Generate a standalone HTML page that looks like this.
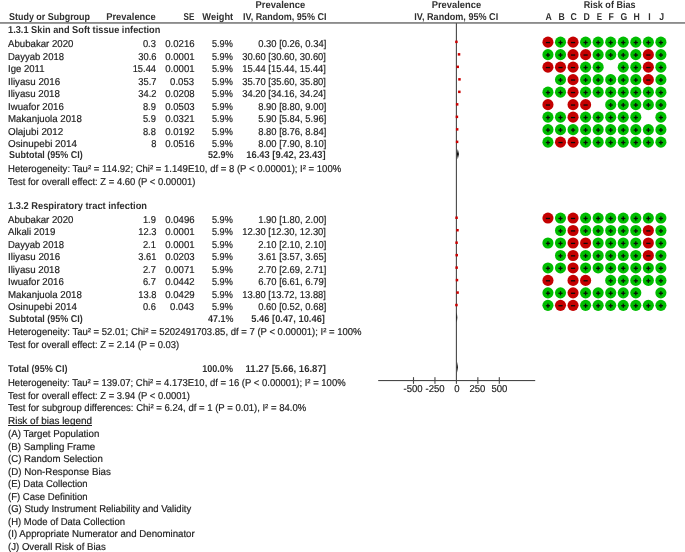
<!DOCTYPE html>
<html><head><meta charset="utf-8"><title>Forest plot</title>
<style>
html,body{margin:0;padding:0;background:#fff;}
body{width:685px;height:552px;position:relative;overflow:hidden;font-family:"Liberation Sans",Arial,sans-serif;color:#1c1c1c;font-size:10.0px;line-height:10.0px;-webkit-text-stroke:0.18px #1c1c1c;}
.t{position:absolute;white-space:nowrap;}
.b{font-weight:bold;-webkit-text-stroke:0;color:#303030;}
u{text-decoration:underline;text-underline-offset:1px;text-decoration-skip-ink:none;text-decoration-thickness:1px;}
svg{position:absolute;left:0;top:0;}
</style></head><body>
<svg width="685" height="552" viewBox="0 0 685 552">
<rect x="455.85" y="23" width="1.1" height="360.85" fill="#484848"/>
<circle cx="547.95" cy="42.15" r="5.55" fill="#c40000"/>
<rect x="545.85" y="41.90" width="4.2" height="1.3" fill="#0a0a0a"/>
<circle cx="560.50" cy="42.15" r="5.55" fill="#00bd00"/>
<rect x="558.40" y="41.90" width="4.2" height="1.3" fill="#0a0a0a"/>
<rect x="559.85" y="40.45" width="1.3" height="4.2" fill="#0a0a0a"/>
<circle cx="573.05" cy="42.15" r="5.55" fill="#c40000"/>
<rect x="570.95" y="41.90" width="4.2" height="1.3" fill="#0a0a0a"/>
<circle cx="585.60" cy="42.15" r="5.55" fill="#00bd00"/>
<rect x="583.50" y="41.90" width="4.2" height="1.3" fill="#0a0a0a"/>
<rect x="584.95" y="40.45" width="1.3" height="4.2" fill="#0a0a0a"/>
<circle cx="598.15" cy="42.15" r="5.55" fill="#00bd00"/>
<rect x="596.05" y="41.90" width="4.2" height="1.3" fill="#0a0a0a"/>
<rect x="597.50" y="40.45" width="1.3" height="4.2" fill="#0a0a0a"/>
<circle cx="610.70" cy="42.15" r="5.55" fill="#00bd00"/>
<rect x="608.60" y="41.90" width="4.2" height="1.3" fill="#0a0a0a"/>
<rect x="610.05" y="40.45" width="1.3" height="4.2" fill="#0a0a0a"/>
<circle cx="623.25" cy="42.15" r="5.55" fill="#00bd00"/>
<rect x="621.15" y="41.90" width="4.2" height="1.3" fill="#0a0a0a"/>
<rect x="622.60" y="40.45" width="1.3" height="4.2" fill="#0a0a0a"/>
<circle cx="635.80" cy="42.15" r="5.55" fill="#00bd00"/>
<rect x="633.70" y="41.90" width="4.2" height="1.3" fill="#0a0a0a"/>
<rect x="635.15" y="40.45" width="1.3" height="4.2" fill="#0a0a0a"/>
<circle cx="648.35" cy="42.15" r="5.55" fill="#00bd00"/>
<rect x="646.25" y="41.90" width="4.2" height="1.3" fill="#0a0a0a"/>
<rect x="647.70" y="40.45" width="1.3" height="4.2" fill="#0a0a0a"/>
<circle cx="660.90" cy="42.15" r="5.55" fill="#00bd00"/>
<rect x="658.80" y="41.90" width="4.2" height="1.3" fill="#0a0a0a"/>
<rect x="660.25" y="40.45" width="1.3" height="4.2" fill="#0a0a0a"/>
<rect x="455.18" y="40.60" width="2.5" height="2.5" fill="#cc0000"/>
<circle cx="547.95" cy="54.65" r="5.55" fill="#00bd00"/>
<rect x="545.85" y="54.40" width="4.2" height="1.3" fill="#0a0a0a"/>
<rect x="547.30" y="52.95" width="1.3" height="4.2" fill="#0a0a0a"/>
<circle cx="560.50" cy="54.65" r="5.55" fill="#00bd00"/>
<rect x="558.40" y="54.40" width="4.2" height="1.3" fill="#0a0a0a"/>
<rect x="559.85" y="52.95" width="1.3" height="4.2" fill="#0a0a0a"/>
<circle cx="573.05" cy="54.65" r="5.55" fill="#c40000"/>
<rect x="570.95" y="54.40" width="4.2" height="1.3" fill="#0a0a0a"/>
<circle cx="585.60" cy="54.65" r="5.55" fill="#c40000"/>
<rect x="583.50" y="54.40" width="4.2" height="1.3" fill="#0a0a0a"/>
<circle cx="598.15" cy="54.65" r="5.55" fill="#00bd00"/>
<rect x="596.05" y="54.40" width="4.2" height="1.3" fill="#0a0a0a"/>
<rect x="597.50" y="52.95" width="1.3" height="4.2" fill="#0a0a0a"/>
<circle cx="610.70" cy="54.65" r="5.55" fill="#00bd00"/>
<rect x="608.60" y="54.40" width="4.2" height="1.3" fill="#0a0a0a"/>
<rect x="610.05" y="52.95" width="1.3" height="4.2" fill="#0a0a0a"/>
<circle cx="623.25" cy="54.65" r="5.55" fill="#00bd00"/>
<rect x="621.15" y="54.40" width="4.2" height="1.3" fill="#0a0a0a"/>
<rect x="622.60" y="52.95" width="1.3" height="4.2" fill="#0a0a0a"/>
<circle cx="635.80" cy="54.65" r="5.55" fill="#00bd00"/>
<rect x="633.70" y="54.40" width="4.2" height="1.3" fill="#0a0a0a"/>
<rect x="635.15" y="52.95" width="1.3" height="4.2" fill="#0a0a0a"/>
<circle cx="648.35" cy="54.65" r="5.55" fill="#c40000"/>
<rect x="646.25" y="54.40" width="4.2" height="1.3" fill="#0a0a0a"/>
<circle cx="660.90" cy="54.65" r="5.55" fill="#00bd00"/>
<rect x="658.80" y="54.40" width="4.2" height="1.3" fill="#0a0a0a"/>
<rect x="660.25" y="52.95" width="1.3" height="4.2" fill="#0a0a0a"/>
<rect x="457.78" y="53.10" width="2.5" height="2.5" fill="#cc0000"/>
<circle cx="547.95" cy="67.15" r="5.55" fill="#c40000"/>
<rect x="545.85" y="66.90" width="4.2" height="1.3" fill="#0a0a0a"/>
<circle cx="560.50" cy="67.15" r="5.55" fill="#c40000"/>
<rect x="558.40" y="66.90" width="4.2" height="1.3" fill="#0a0a0a"/>
<circle cx="573.05" cy="67.15" r="5.55" fill="#c40000"/>
<rect x="570.95" y="66.90" width="4.2" height="1.3" fill="#0a0a0a"/>
<circle cx="585.60" cy="67.15" r="5.55" fill="#00bd00"/>
<rect x="583.50" y="66.90" width="4.2" height="1.3" fill="#0a0a0a"/>
<rect x="584.95" y="65.45" width="1.3" height="4.2" fill="#0a0a0a"/>
<circle cx="598.15" cy="67.15" r="5.55" fill="#00bd00"/>
<rect x="596.05" y="66.90" width="4.2" height="1.3" fill="#0a0a0a"/>
<rect x="597.50" y="65.45" width="1.3" height="4.2" fill="#0a0a0a"/>
<circle cx="623.25" cy="67.15" r="5.55" fill="#00bd00"/>
<rect x="621.15" y="66.90" width="4.2" height="1.3" fill="#0a0a0a"/>
<rect x="622.60" y="65.45" width="1.3" height="4.2" fill="#0a0a0a"/>
<circle cx="635.80" cy="67.15" r="5.55" fill="#00bd00"/>
<rect x="633.70" y="66.90" width="4.2" height="1.3" fill="#0a0a0a"/>
<rect x="635.15" y="65.45" width="1.3" height="4.2" fill="#0a0a0a"/>
<circle cx="648.35" cy="67.15" r="5.55" fill="#c40000"/>
<rect x="646.25" y="66.90" width="4.2" height="1.3" fill="#0a0a0a"/>
<circle cx="660.90" cy="67.15" r="5.55" fill="#00bd00"/>
<rect x="658.80" y="66.90" width="4.2" height="1.3" fill="#0a0a0a"/>
<rect x="660.25" y="65.45" width="1.3" height="4.2" fill="#0a0a0a"/>
<rect x="456.47" y="65.60" width="2.5" height="2.5" fill="#cc0000"/>
<circle cx="560.50" cy="79.65" r="5.55" fill="#00bd00"/>
<rect x="558.40" y="79.40" width="4.2" height="1.3" fill="#0a0a0a"/>
<rect x="559.85" y="77.95" width="1.3" height="4.2" fill="#0a0a0a"/>
<circle cx="573.05" cy="79.65" r="5.55" fill="#c40000"/>
<rect x="570.95" y="79.40" width="4.2" height="1.3" fill="#0a0a0a"/>
<circle cx="585.60" cy="79.65" r="5.55" fill="#00bd00"/>
<rect x="583.50" y="79.40" width="4.2" height="1.3" fill="#0a0a0a"/>
<rect x="584.95" y="77.95" width="1.3" height="4.2" fill="#0a0a0a"/>
<circle cx="598.15" cy="79.65" r="5.55" fill="#00bd00"/>
<rect x="596.05" y="79.40" width="4.2" height="1.3" fill="#0a0a0a"/>
<rect x="597.50" y="77.95" width="1.3" height="4.2" fill="#0a0a0a"/>
<circle cx="610.70" cy="79.65" r="5.55" fill="#00bd00"/>
<rect x="608.60" y="79.40" width="4.2" height="1.3" fill="#0a0a0a"/>
<rect x="610.05" y="77.95" width="1.3" height="4.2" fill="#0a0a0a"/>
<circle cx="623.25" cy="79.65" r="5.55" fill="#00bd00"/>
<rect x="621.15" y="79.40" width="4.2" height="1.3" fill="#0a0a0a"/>
<rect x="622.60" y="77.95" width="1.3" height="4.2" fill="#0a0a0a"/>
<circle cx="635.80" cy="79.65" r="5.55" fill="#00bd00"/>
<rect x="633.70" y="79.40" width="4.2" height="1.3" fill="#0a0a0a"/>
<rect x="635.15" y="77.95" width="1.3" height="4.2" fill="#0a0a0a"/>
<circle cx="648.35" cy="79.65" r="5.55" fill="#c40000"/>
<rect x="646.25" y="79.40" width="4.2" height="1.3" fill="#0a0a0a"/>
<circle cx="660.90" cy="79.65" r="5.55" fill="#00bd00"/>
<rect x="658.80" y="79.40" width="4.2" height="1.3" fill="#0a0a0a"/>
<rect x="660.25" y="77.95" width="1.3" height="4.2" fill="#0a0a0a"/>
<rect x="458.21" y="78.10" width="2.5" height="2.5" fill="#cc0000"/>
<circle cx="547.95" cy="92.15" r="5.55" fill="#00bd00"/>
<rect x="545.85" y="91.90" width="4.2" height="1.3" fill="#0a0a0a"/>
<rect x="547.30" y="90.45" width="1.3" height="4.2" fill="#0a0a0a"/>
<circle cx="560.50" cy="92.15" r="5.55" fill="#00bd00"/>
<rect x="558.40" y="91.90" width="4.2" height="1.3" fill="#0a0a0a"/>
<rect x="559.85" y="90.45" width="1.3" height="4.2" fill="#0a0a0a"/>
<circle cx="573.05" cy="92.15" r="5.55" fill="#c40000"/>
<rect x="570.95" y="91.90" width="4.2" height="1.3" fill="#0a0a0a"/>
<circle cx="585.60" cy="92.15" r="5.55" fill="#00bd00"/>
<rect x="583.50" y="91.90" width="4.2" height="1.3" fill="#0a0a0a"/>
<rect x="584.95" y="90.45" width="1.3" height="4.2" fill="#0a0a0a"/>
<circle cx="598.15" cy="92.15" r="5.55" fill="#00bd00"/>
<rect x="596.05" y="91.90" width="4.2" height="1.3" fill="#0a0a0a"/>
<rect x="597.50" y="90.45" width="1.3" height="4.2" fill="#0a0a0a"/>
<circle cx="610.70" cy="92.15" r="5.55" fill="#00bd00"/>
<rect x="608.60" y="91.90" width="4.2" height="1.3" fill="#0a0a0a"/>
<rect x="610.05" y="90.45" width="1.3" height="4.2" fill="#0a0a0a"/>
<circle cx="623.25" cy="92.15" r="5.55" fill="#00bd00"/>
<rect x="621.15" y="91.90" width="4.2" height="1.3" fill="#0a0a0a"/>
<rect x="622.60" y="90.45" width="1.3" height="4.2" fill="#0a0a0a"/>
<circle cx="635.80" cy="92.15" r="5.55" fill="#00bd00"/>
<rect x="633.70" y="91.90" width="4.2" height="1.3" fill="#0a0a0a"/>
<rect x="635.15" y="90.45" width="1.3" height="4.2" fill="#0a0a0a"/>
<circle cx="648.35" cy="92.15" r="5.55" fill="#00bd00"/>
<rect x="646.25" y="91.90" width="4.2" height="1.3" fill="#0a0a0a"/>
<rect x="647.70" y="90.45" width="1.3" height="4.2" fill="#0a0a0a"/>
<circle cx="660.90" cy="92.15" r="5.55" fill="#00bd00"/>
<rect x="658.80" y="91.90" width="4.2" height="1.3" fill="#0a0a0a"/>
<rect x="660.25" y="90.45" width="1.3" height="4.2" fill="#0a0a0a"/>
<rect x="458.08" y="90.60" width="2.5" height="2.5" fill="#cc0000"/>
<circle cx="547.95" cy="104.65" r="5.55" fill="#c40000"/>
<rect x="545.85" y="104.40" width="4.2" height="1.3" fill="#0a0a0a"/>
<circle cx="573.05" cy="104.65" r="5.55" fill="#c40000"/>
<rect x="570.95" y="104.40" width="4.2" height="1.3" fill="#0a0a0a"/>
<circle cx="585.60" cy="104.65" r="5.55" fill="#c40000"/>
<rect x="583.50" y="104.40" width="4.2" height="1.3" fill="#0a0a0a"/>
<circle cx="610.70" cy="104.65" r="5.55" fill="#00bd00"/>
<rect x="608.60" y="104.40" width="4.2" height="1.3" fill="#0a0a0a"/>
<rect x="610.05" y="102.95" width="1.3" height="4.2" fill="#0a0a0a"/>
<circle cx="623.25" cy="104.65" r="5.55" fill="#00bd00"/>
<rect x="621.15" y="104.40" width="4.2" height="1.3" fill="#0a0a0a"/>
<rect x="622.60" y="102.95" width="1.3" height="4.2" fill="#0a0a0a"/>
<circle cx="635.80" cy="104.65" r="5.55" fill="#00bd00"/>
<rect x="633.70" y="104.40" width="4.2" height="1.3" fill="#0a0a0a"/>
<rect x="635.15" y="102.95" width="1.3" height="4.2" fill="#0a0a0a"/>
<circle cx="648.35" cy="104.65" r="5.55" fill="#00bd00"/>
<rect x="646.25" y="104.40" width="4.2" height="1.3" fill="#0a0a0a"/>
<rect x="647.70" y="102.95" width="1.3" height="4.2" fill="#0a0a0a"/>
<circle cx="660.90" cy="104.65" r="5.55" fill="#00bd00"/>
<rect x="658.80" y="104.40" width="4.2" height="1.3" fill="#0a0a0a"/>
<rect x="660.25" y="102.95" width="1.3" height="4.2" fill="#0a0a0a"/>
<rect x="455.91" y="103.10" width="2.5" height="2.5" fill="#cc0000"/>
<circle cx="547.95" cy="117.15" r="5.55" fill="#00bd00"/>
<rect x="545.85" y="116.90" width="4.2" height="1.3" fill="#0a0a0a"/>
<rect x="547.30" y="115.45" width="1.3" height="4.2" fill="#0a0a0a"/>
<circle cx="560.50" cy="117.15" r="5.55" fill="#00bd00"/>
<rect x="558.40" y="116.90" width="4.2" height="1.3" fill="#0a0a0a"/>
<rect x="559.85" y="115.45" width="1.3" height="4.2" fill="#0a0a0a"/>
<circle cx="573.05" cy="117.15" r="5.55" fill="#c40000"/>
<rect x="570.95" y="116.90" width="4.2" height="1.3" fill="#0a0a0a"/>
<circle cx="585.60" cy="117.15" r="5.55" fill="#00bd00"/>
<rect x="583.50" y="116.90" width="4.2" height="1.3" fill="#0a0a0a"/>
<rect x="584.95" y="115.45" width="1.3" height="4.2" fill="#0a0a0a"/>
<circle cx="598.15" cy="117.15" r="5.55" fill="#00bd00"/>
<rect x="596.05" y="116.90" width="4.2" height="1.3" fill="#0a0a0a"/>
<rect x="597.50" y="115.45" width="1.3" height="4.2" fill="#0a0a0a"/>
<circle cx="610.70" cy="117.15" r="5.55" fill="#00bd00"/>
<rect x="608.60" y="116.90" width="4.2" height="1.3" fill="#0a0a0a"/>
<rect x="610.05" y="115.45" width="1.3" height="4.2" fill="#0a0a0a"/>
<circle cx="623.25" cy="117.15" r="5.55" fill="#00bd00"/>
<rect x="621.15" y="116.90" width="4.2" height="1.3" fill="#0a0a0a"/>
<rect x="622.60" y="115.45" width="1.3" height="4.2" fill="#0a0a0a"/>
<circle cx="635.80" cy="117.15" r="5.55" fill="#00bd00"/>
<rect x="633.70" y="116.90" width="4.2" height="1.3" fill="#0a0a0a"/>
<rect x="635.15" y="115.45" width="1.3" height="4.2" fill="#0a0a0a"/>
<circle cx="660.90" cy="117.15" r="5.55" fill="#00bd00"/>
<rect x="658.80" y="116.90" width="4.2" height="1.3" fill="#0a0a0a"/>
<rect x="660.25" y="115.45" width="1.3" height="4.2" fill="#0a0a0a"/>
<rect x="455.66" y="115.60" width="2.5" height="2.5" fill="#cc0000"/>
<circle cx="547.95" cy="129.65" r="5.55" fill="#00bd00"/>
<rect x="545.85" y="129.40" width="4.2" height="1.3" fill="#0a0a0a"/>
<rect x="547.30" y="127.95" width="1.3" height="4.2" fill="#0a0a0a"/>
<circle cx="560.50" cy="129.65" r="5.55" fill="#00bd00"/>
<rect x="558.40" y="129.40" width="4.2" height="1.3" fill="#0a0a0a"/>
<rect x="559.85" y="127.95" width="1.3" height="4.2" fill="#0a0a0a"/>
<circle cx="573.05" cy="129.65" r="5.55" fill="#00bd00"/>
<rect x="570.95" y="129.40" width="4.2" height="1.3" fill="#0a0a0a"/>
<rect x="572.40" y="127.95" width="1.3" height="4.2" fill="#0a0a0a"/>
<circle cx="585.60" cy="129.65" r="5.55" fill="#00bd00"/>
<rect x="583.50" y="129.40" width="4.2" height="1.3" fill="#0a0a0a"/>
<rect x="584.95" y="127.95" width="1.3" height="4.2" fill="#0a0a0a"/>
<circle cx="598.15" cy="129.65" r="5.55" fill="#00bd00"/>
<rect x="596.05" y="129.40" width="4.2" height="1.3" fill="#0a0a0a"/>
<rect x="597.50" y="127.95" width="1.3" height="4.2" fill="#0a0a0a"/>
<circle cx="610.70" cy="129.65" r="5.55" fill="#00bd00"/>
<rect x="608.60" y="129.40" width="4.2" height="1.3" fill="#0a0a0a"/>
<rect x="610.05" y="127.95" width="1.3" height="4.2" fill="#0a0a0a"/>
<circle cx="623.25" cy="129.65" r="5.55" fill="#00bd00"/>
<rect x="621.15" y="129.40" width="4.2" height="1.3" fill="#0a0a0a"/>
<rect x="622.60" y="127.95" width="1.3" height="4.2" fill="#0a0a0a"/>
<circle cx="635.80" cy="129.65" r="5.55" fill="#00bd00"/>
<rect x="633.70" y="129.40" width="4.2" height="1.3" fill="#0a0a0a"/>
<rect x="635.15" y="127.95" width="1.3" height="4.2" fill="#0a0a0a"/>
<circle cx="648.35" cy="129.65" r="5.55" fill="#00bd00"/>
<rect x="646.25" y="129.40" width="4.2" height="1.3" fill="#0a0a0a"/>
<rect x="647.70" y="127.95" width="1.3" height="4.2" fill="#0a0a0a"/>
<circle cx="660.90" cy="129.65" r="5.55" fill="#00bd00"/>
<rect x="658.80" y="129.40" width="4.2" height="1.3" fill="#0a0a0a"/>
<rect x="660.25" y="127.95" width="1.3" height="4.2" fill="#0a0a0a"/>
<rect x="455.91" y="128.10" width="2.5" height="2.5" fill="#cc0000"/>
<circle cx="547.95" cy="142.15" r="5.55" fill="#00bd00"/>
<rect x="545.85" y="141.90" width="4.2" height="1.3" fill="#0a0a0a"/>
<rect x="547.30" y="140.45" width="1.3" height="4.2" fill="#0a0a0a"/>
<circle cx="560.50" cy="142.15" r="5.55" fill="#c40000"/>
<rect x="558.40" y="141.90" width="4.2" height="1.3" fill="#0a0a0a"/>
<circle cx="573.05" cy="142.15" r="5.55" fill="#c40000"/>
<rect x="570.95" y="141.90" width="4.2" height="1.3" fill="#0a0a0a"/>
<circle cx="585.60" cy="142.15" r="5.55" fill="#00bd00"/>
<rect x="583.50" y="141.90" width="4.2" height="1.3" fill="#0a0a0a"/>
<rect x="584.95" y="140.45" width="1.3" height="4.2" fill="#0a0a0a"/>
<circle cx="598.15" cy="142.15" r="5.55" fill="#00bd00"/>
<rect x="596.05" y="141.90" width="4.2" height="1.3" fill="#0a0a0a"/>
<rect x="597.50" y="140.45" width="1.3" height="4.2" fill="#0a0a0a"/>
<circle cx="610.70" cy="142.15" r="5.55" fill="#00bd00"/>
<rect x="608.60" y="141.90" width="4.2" height="1.3" fill="#0a0a0a"/>
<rect x="610.05" y="140.45" width="1.3" height="4.2" fill="#0a0a0a"/>
<circle cx="623.25" cy="142.15" r="5.55" fill="#00bd00"/>
<rect x="621.15" y="141.90" width="4.2" height="1.3" fill="#0a0a0a"/>
<rect x="622.60" y="140.45" width="1.3" height="4.2" fill="#0a0a0a"/>
<circle cx="635.80" cy="142.15" r="5.55" fill="#00bd00"/>
<rect x="633.70" y="141.90" width="4.2" height="1.3" fill="#0a0a0a"/>
<rect x="635.15" y="140.45" width="1.3" height="4.2" fill="#0a0a0a"/>
<circle cx="648.35" cy="142.15" r="5.55" fill="#00bd00"/>
<rect x="646.25" y="141.90" width="4.2" height="1.3" fill="#0a0a0a"/>
<rect x="647.70" y="140.45" width="1.3" height="4.2" fill="#0a0a0a"/>
<circle cx="660.90" cy="142.15" r="5.55" fill="#00bd00"/>
<rect x="658.80" y="141.90" width="4.2" height="1.3" fill="#0a0a0a"/>
<rect x="660.25" y="140.45" width="1.3" height="4.2" fill="#0a0a0a"/>
<rect x="455.84" y="140.60" width="2.5" height="2.5" fill="#cc0000"/>
<polygon points="456.96,154.10 457.81,148.90 458.91,154.10 457.81,159.30" fill="#000"/>
<circle cx="547.95" cy="218.05" r="5.55" fill="#c40000"/>
<rect x="545.85" y="217.80" width="4.2" height="1.3" fill="#0a0a0a"/>
<circle cx="560.50" cy="218.05" r="5.55" fill="#00bd00"/>
<rect x="558.40" y="217.80" width="4.2" height="1.3" fill="#0a0a0a"/>
<rect x="559.85" y="216.35" width="1.3" height="4.2" fill="#0a0a0a"/>
<circle cx="573.05" cy="218.05" r="5.55" fill="#c40000"/>
<rect x="570.95" y="217.80" width="4.2" height="1.3" fill="#0a0a0a"/>
<circle cx="585.60" cy="218.05" r="5.55" fill="#00bd00"/>
<rect x="583.50" y="217.80" width="4.2" height="1.3" fill="#0a0a0a"/>
<rect x="584.95" y="216.35" width="1.3" height="4.2" fill="#0a0a0a"/>
<circle cx="598.15" cy="218.05" r="5.55" fill="#00bd00"/>
<rect x="596.05" y="217.80" width="4.2" height="1.3" fill="#0a0a0a"/>
<rect x="597.50" y="216.35" width="1.3" height="4.2" fill="#0a0a0a"/>
<circle cx="610.70" cy="218.05" r="5.55" fill="#00bd00"/>
<rect x="608.60" y="217.80" width="4.2" height="1.3" fill="#0a0a0a"/>
<rect x="610.05" y="216.35" width="1.3" height="4.2" fill="#0a0a0a"/>
<circle cx="623.25" cy="218.05" r="5.55" fill="#00bd00"/>
<rect x="621.15" y="217.80" width="4.2" height="1.3" fill="#0a0a0a"/>
<rect x="622.60" y="216.35" width="1.3" height="4.2" fill="#0a0a0a"/>
<circle cx="635.80" cy="218.05" r="5.55" fill="#00bd00"/>
<rect x="633.70" y="217.80" width="4.2" height="1.3" fill="#0a0a0a"/>
<rect x="635.15" y="216.35" width="1.3" height="4.2" fill="#0a0a0a"/>
<circle cx="648.35" cy="218.05" r="5.55" fill="#00bd00"/>
<rect x="646.25" y="217.80" width="4.2" height="1.3" fill="#0a0a0a"/>
<rect x="647.70" y="216.35" width="1.3" height="4.2" fill="#0a0a0a"/>
<circle cx="660.90" cy="218.05" r="5.55" fill="#00bd00"/>
<rect x="658.80" y="217.80" width="4.2" height="1.3" fill="#0a0a0a"/>
<rect x="660.25" y="216.35" width="1.3" height="4.2" fill="#0a0a0a"/>
<rect x="455.31" y="216.50" width="2.5" height="2.5" fill="#cc0000"/>
<circle cx="560.50" cy="230.52" r="5.55" fill="#00bd00"/>
<rect x="558.40" y="230.27" width="4.2" height="1.3" fill="#0a0a0a"/>
<rect x="559.85" y="228.82" width="1.3" height="4.2" fill="#0a0a0a"/>
<circle cx="573.05" cy="230.52" r="5.55" fill="#c40000"/>
<rect x="570.95" y="230.27" width="4.2" height="1.3" fill="#0a0a0a"/>
<circle cx="585.60" cy="230.52" r="5.55" fill="#00bd00"/>
<rect x="583.50" y="230.27" width="4.2" height="1.3" fill="#0a0a0a"/>
<rect x="584.95" y="228.82" width="1.3" height="4.2" fill="#0a0a0a"/>
<circle cx="598.15" cy="230.52" r="5.55" fill="#00bd00"/>
<rect x="596.05" y="230.27" width="4.2" height="1.3" fill="#0a0a0a"/>
<rect x="597.50" y="228.82" width="1.3" height="4.2" fill="#0a0a0a"/>
<circle cx="610.70" cy="230.52" r="5.55" fill="#00bd00"/>
<rect x="608.60" y="230.27" width="4.2" height="1.3" fill="#0a0a0a"/>
<rect x="610.05" y="228.82" width="1.3" height="4.2" fill="#0a0a0a"/>
<circle cx="623.25" cy="230.52" r="5.55" fill="#00bd00"/>
<rect x="621.15" y="230.27" width="4.2" height="1.3" fill="#0a0a0a"/>
<rect x="622.60" y="228.82" width="1.3" height="4.2" fill="#0a0a0a"/>
<circle cx="635.80" cy="230.52" r="5.55" fill="#00bd00"/>
<rect x="633.70" y="230.27" width="4.2" height="1.3" fill="#0a0a0a"/>
<rect x="635.15" y="228.82" width="1.3" height="4.2" fill="#0a0a0a"/>
<circle cx="648.35" cy="230.52" r="5.55" fill="#c40000"/>
<rect x="646.25" y="230.27" width="4.2" height="1.3" fill="#0a0a0a"/>
<circle cx="660.90" cy="230.52" r="5.55" fill="#00bd00"/>
<rect x="658.80" y="230.27" width="4.2" height="1.3" fill="#0a0a0a"/>
<rect x="660.25" y="228.82" width="1.3" height="4.2" fill="#0a0a0a"/>
<rect x="456.21" y="228.97" width="2.5" height="2.5" fill="#cc0000"/>
<circle cx="547.95" cy="242.99" r="5.55" fill="#00bd00"/>
<rect x="545.85" y="242.74" width="4.2" height="1.3" fill="#0a0a0a"/>
<rect x="547.30" y="241.29" width="1.3" height="4.2" fill="#0a0a0a"/>
<circle cx="560.50" cy="242.99" r="5.55" fill="#00bd00"/>
<rect x="558.40" y="242.74" width="4.2" height="1.3" fill="#0a0a0a"/>
<rect x="559.85" y="241.29" width="1.3" height="4.2" fill="#0a0a0a"/>
<circle cx="573.05" cy="242.99" r="5.55" fill="#c40000"/>
<rect x="570.95" y="242.74" width="4.2" height="1.3" fill="#0a0a0a"/>
<circle cx="585.60" cy="242.99" r="5.55" fill="#c40000"/>
<rect x="583.50" y="242.74" width="4.2" height="1.3" fill="#0a0a0a"/>
<circle cx="598.15" cy="242.99" r="5.55" fill="#00bd00"/>
<rect x="596.05" y="242.74" width="4.2" height="1.3" fill="#0a0a0a"/>
<rect x="597.50" y="241.29" width="1.3" height="4.2" fill="#0a0a0a"/>
<circle cx="610.70" cy="242.99" r="5.55" fill="#00bd00"/>
<rect x="608.60" y="242.74" width="4.2" height="1.3" fill="#0a0a0a"/>
<rect x="610.05" y="241.29" width="1.3" height="4.2" fill="#0a0a0a"/>
<circle cx="623.25" cy="242.99" r="5.55" fill="#00bd00"/>
<rect x="621.15" y="242.74" width="4.2" height="1.3" fill="#0a0a0a"/>
<rect x="622.60" y="241.29" width="1.3" height="4.2" fill="#0a0a0a"/>
<circle cx="635.80" cy="242.99" r="5.55" fill="#00bd00"/>
<rect x="633.70" y="242.74" width="4.2" height="1.3" fill="#0a0a0a"/>
<rect x="635.15" y="241.29" width="1.3" height="4.2" fill="#0a0a0a"/>
<circle cx="648.35" cy="242.99" r="5.55" fill="#c40000"/>
<rect x="646.25" y="242.74" width="4.2" height="1.3" fill="#0a0a0a"/>
<circle cx="660.90" cy="242.99" r="5.55" fill="#00bd00"/>
<rect x="658.80" y="242.74" width="4.2" height="1.3" fill="#0a0a0a"/>
<rect x="660.25" y="241.29" width="1.3" height="4.2" fill="#0a0a0a"/>
<rect x="455.33" y="241.44" width="2.5" height="2.5" fill="#cc0000"/>
<circle cx="560.50" cy="255.46" r="5.55" fill="#00bd00"/>
<rect x="558.40" y="255.21" width="4.2" height="1.3" fill="#0a0a0a"/>
<rect x="559.85" y="253.76" width="1.3" height="4.2" fill="#0a0a0a"/>
<circle cx="573.05" cy="255.46" r="5.55" fill="#c40000"/>
<rect x="570.95" y="255.21" width="4.2" height="1.3" fill="#0a0a0a"/>
<circle cx="585.60" cy="255.46" r="5.55" fill="#00bd00"/>
<rect x="583.50" y="255.21" width="4.2" height="1.3" fill="#0a0a0a"/>
<rect x="584.95" y="253.76" width="1.3" height="4.2" fill="#0a0a0a"/>
<circle cx="598.15" cy="255.46" r="5.55" fill="#00bd00"/>
<rect x="596.05" y="255.21" width="4.2" height="1.3" fill="#0a0a0a"/>
<rect x="597.50" y="253.76" width="1.3" height="4.2" fill="#0a0a0a"/>
<circle cx="610.70" cy="255.46" r="5.55" fill="#00bd00"/>
<rect x="608.60" y="255.21" width="4.2" height="1.3" fill="#0a0a0a"/>
<rect x="610.05" y="253.76" width="1.3" height="4.2" fill="#0a0a0a"/>
<circle cx="623.25" cy="255.46" r="5.55" fill="#00bd00"/>
<rect x="621.15" y="255.21" width="4.2" height="1.3" fill="#0a0a0a"/>
<rect x="622.60" y="253.76" width="1.3" height="4.2" fill="#0a0a0a"/>
<circle cx="635.80" cy="255.46" r="5.55" fill="#00bd00"/>
<rect x="633.70" y="255.21" width="4.2" height="1.3" fill="#0a0a0a"/>
<rect x="635.15" y="253.76" width="1.3" height="4.2" fill="#0a0a0a"/>
<circle cx="648.35" cy="255.46" r="5.55" fill="#c40000"/>
<rect x="646.25" y="255.21" width="4.2" height="1.3" fill="#0a0a0a"/>
<circle cx="660.90" cy="255.46" r="5.55" fill="#00bd00"/>
<rect x="658.80" y="255.21" width="4.2" height="1.3" fill="#0a0a0a"/>
<rect x="660.25" y="253.76" width="1.3" height="4.2" fill="#0a0a0a"/>
<rect x="455.46" y="253.91" width="2.5" height="2.5" fill="#cc0000"/>
<circle cx="547.95" cy="267.93" r="5.55" fill="#00bd00"/>
<rect x="545.85" y="267.68" width="4.2" height="1.3" fill="#0a0a0a"/>
<rect x="547.30" y="266.23" width="1.3" height="4.2" fill="#0a0a0a"/>
<circle cx="560.50" cy="267.93" r="5.55" fill="#00bd00"/>
<rect x="558.40" y="267.68" width="4.2" height="1.3" fill="#0a0a0a"/>
<rect x="559.85" y="266.23" width="1.3" height="4.2" fill="#0a0a0a"/>
<circle cx="573.05" cy="267.93" r="5.55" fill="#c40000"/>
<rect x="570.95" y="267.68" width="4.2" height="1.3" fill="#0a0a0a"/>
<circle cx="585.60" cy="267.93" r="5.55" fill="#00bd00"/>
<rect x="583.50" y="267.68" width="4.2" height="1.3" fill="#0a0a0a"/>
<rect x="584.95" y="266.23" width="1.3" height="4.2" fill="#0a0a0a"/>
<circle cx="598.15" cy="267.93" r="5.55" fill="#00bd00"/>
<rect x="596.05" y="267.68" width="4.2" height="1.3" fill="#0a0a0a"/>
<rect x="597.50" y="266.23" width="1.3" height="4.2" fill="#0a0a0a"/>
<circle cx="610.70" cy="267.93" r="5.55" fill="#00bd00"/>
<rect x="608.60" y="267.68" width="4.2" height="1.3" fill="#0a0a0a"/>
<rect x="610.05" y="266.23" width="1.3" height="4.2" fill="#0a0a0a"/>
<circle cx="623.25" cy="267.93" r="5.55" fill="#00bd00"/>
<rect x="621.15" y="267.68" width="4.2" height="1.3" fill="#0a0a0a"/>
<rect x="622.60" y="266.23" width="1.3" height="4.2" fill="#0a0a0a"/>
<circle cx="635.80" cy="267.93" r="5.55" fill="#00bd00"/>
<rect x="633.70" y="267.68" width="4.2" height="1.3" fill="#0a0a0a"/>
<rect x="635.15" y="266.23" width="1.3" height="4.2" fill="#0a0a0a"/>
<circle cx="648.35" cy="267.93" r="5.55" fill="#00bd00"/>
<rect x="646.25" y="267.68" width="4.2" height="1.3" fill="#0a0a0a"/>
<rect x="647.70" y="266.23" width="1.3" height="4.2" fill="#0a0a0a"/>
<circle cx="660.90" cy="267.93" r="5.55" fill="#00bd00"/>
<rect x="658.80" y="267.68" width="4.2" height="1.3" fill="#0a0a0a"/>
<rect x="660.25" y="266.23" width="1.3" height="4.2" fill="#0a0a0a"/>
<rect x="455.38" y="266.38" width="2.5" height="2.5" fill="#cc0000"/>
<circle cx="547.95" cy="280.40" r="5.55" fill="#c40000"/>
<rect x="545.85" y="280.15" width="4.2" height="1.3" fill="#0a0a0a"/>
<circle cx="573.05" cy="280.40" r="5.55" fill="#c40000"/>
<rect x="570.95" y="280.15" width="4.2" height="1.3" fill="#0a0a0a"/>
<circle cx="585.60" cy="280.40" r="5.55" fill="#c40000"/>
<rect x="583.50" y="280.15" width="4.2" height="1.3" fill="#0a0a0a"/>
<circle cx="610.70" cy="280.40" r="5.55" fill="#00bd00"/>
<rect x="608.60" y="280.15" width="4.2" height="1.3" fill="#0a0a0a"/>
<rect x="610.05" y="278.70" width="1.3" height="4.2" fill="#0a0a0a"/>
<circle cx="623.25" cy="280.40" r="5.55" fill="#00bd00"/>
<rect x="621.15" y="280.15" width="4.2" height="1.3" fill="#0a0a0a"/>
<rect x="622.60" y="278.70" width="1.3" height="4.2" fill="#0a0a0a"/>
<circle cx="635.80" cy="280.40" r="5.55" fill="#00bd00"/>
<rect x="633.70" y="280.15" width="4.2" height="1.3" fill="#0a0a0a"/>
<rect x="635.15" y="278.70" width="1.3" height="4.2" fill="#0a0a0a"/>
<circle cx="648.35" cy="280.40" r="5.55" fill="#00bd00"/>
<rect x="646.25" y="280.15" width="4.2" height="1.3" fill="#0a0a0a"/>
<rect x="647.70" y="278.70" width="1.3" height="4.2" fill="#0a0a0a"/>
<circle cx="660.90" cy="280.40" r="5.55" fill="#00bd00"/>
<rect x="658.80" y="280.15" width="4.2" height="1.3" fill="#0a0a0a"/>
<rect x="660.25" y="278.70" width="1.3" height="4.2" fill="#0a0a0a"/>
<rect x="455.72" y="278.85" width="2.5" height="2.5" fill="#cc0000"/>
<circle cx="547.95" cy="292.87" r="5.55" fill="#00bd00"/>
<rect x="545.85" y="292.62" width="4.2" height="1.3" fill="#0a0a0a"/>
<rect x="547.30" y="291.17" width="1.3" height="4.2" fill="#0a0a0a"/>
<circle cx="560.50" cy="292.87" r="5.55" fill="#00bd00"/>
<rect x="558.40" y="292.62" width="4.2" height="1.3" fill="#0a0a0a"/>
<rect x="559.85" y="291.17" width="1.3" height="4.2" fill="#0a0a0a"/>
<circle cx="573.05" cy="292.87" r="5.55" fill="#c40000"/>
<rect x="570.95" y="292.62" width="4.2" height="1.3" fill="#0a0a0a"/>
<circle cx="585.60" cy="292.87" r="5.55" fill="#00bd00"/>
<rect x="583.50" y="292.62" width="4.2" height="1.3" fill="#0a0a0a"/>
<rect x="584.95" y="291.17" width="1.3" height="4.2" fill="#0a0a0a"/>
<circle cx="598.15" cy="292.87" r="5.55" fill="#00bd00"/>
<rect x="596.05" y="292.62" width="4.2" height="1.3" fill="#0a0a0a"/>
<rect x="597.50" y="291.17" width="1.3" height="4.2" fill="#0a0a0a"/>
<circle cx="610.70" cy="292.87" r="5.55" fill="#00bd00"/>
<rect x="608.60" y="292.62" width="4.2" height="1.3" fill="#0a0a0a"/>
<rect x="610.05" y="291.17" width="1.3" height="4.2" fill="#0a0a0a"/>
<circle cx="623.25" cy="292.87" r="5.55" fill="#00bd00"/>
<rect x="621.15" y="292.62" width="4.2" height="1.3" fill="#0a0a0a"/>
<rect x="622.60" y="291.17" width="1.3" height="4.2" fill="#0a0a0a"/>
<circle cx="635.80" cy="292.87" r="5.55" fill="#00bd00"/>
<rect x="633.70" y="292.62" width="4.2" height="1.3" fill="#0a0a0a"/>
<rect x="635.15" y="291.17" width="1.3" height="4.2" fill="#0a0a0a"/>
<circle cx="660.90" cy="292.87" r="5.55" fill="#00bd00"/>
<rect x="658.80" y="292.62" width="4.2" height="1.3" fill="#0a0a0a"/>
<rect x="660.25" y="291.17" width="1.3" height="4.2" fill="#0a0a0a"/>
<rect x="456.33" y="291.32" width="2.5" height="2.5" fill="#cc0000"/>
<circle cx="547.95" cy="305.34" r="5.55" fill="#00bd00"/>
<rect x="545.85" y="305.09" width="4.2" height="1.3" fill="#0a0a0a"/>
<rect x="547.30" y="303.64" width="1.3" height="4.2" fill="#0a0a0a"/>
<circle cx="560.50" cy="305.34" r="5.55" fill="#c40000"/>
<rect x="558.40" y="305.09" width="4.2" height="1.3" fill="#0a0a0a"/>
<circle cx="573.05" cy="305.34" r="5.55" fill="#c40000"/>
<rect x="570.95" y="305.09" width="4.2" height="1.3" fill="#0a0a0a"/>
<circle cx="585.60" cy="305.34" r="5.55" fill="#00bd00"/>
<rect x="583.50" y="305.09" width="4.2" height="1.3" fill="#0a0a0a"/>
<rect x="584.95" y="303.64" width="1.3" height="4.2" fill="#0a0a0a"/>
<circle cx="598.15" cy="305.34" r="5.55" fill="#00bd00"/>
<rect x="596.05" y="305.09" width="4.2" height="1.3" fill="#0a0a0a"/>
<rect x="597.50" y="303.64" width="1.3" height="4.2" fill="#0a0a0a"/>
<circle cx="610.70" cy="305.34" r="5.55" fill="#00bd00"/>
<rect x="608.60" y="305.09" width="4.2" height="1.3" fill="#0a0a0a"/>
<rect x="610.05" y="303.64" width="1.3" height="4.2" fill="#0a0a0a"/>
<circle cx="623.25" cy="305.34" r="5.55" fill="#00bd00"/>
<rect x="621.15" y="305.09" width="4.2" height="1.3" fill="#0a0a0a"/>
<rect x="622.60" y="303.64" width="1.3" height="4.2" fill="#0a0a0a"/>
<circle cx="635.80" cy="305.34" r="5.55" fill="#00bd00"/>
<rect x="633.70" y="305.09" width="4.2" height="1.3" fill="#0a0a0a"/>
<rect x="635.15" y="303.64" width="1.3" height="4.2" fill="#0a0a0a"/>
<circle cx="648.35" cy="305.34" r="5.55" fill="#00bd00"/>
<rect x="646.25" y="305.09" width="4.2" height="1.3" fill="#0a0a0a"/>
<rect x="647.70" y="303.64" width="1.3" height="4.2" fill="#0a0a0a"/>
<circle cx="660.90" cy="305.34" r="5.55" fill="#00bd00"/>
<rect x="658.80" y="305.09" width="4.2" height="1.3" fill="#0a0a0a"/>
<rect x="660.25" y="303.64" width="1.3" height="4.2" fill="#0a0a0a"/>
<rect x="455.20" y="303.79" width="2.5" height="2.5" fill="#cc0000"/>
<polygon points="456.44,317.40 456.87,312.40 457.30,317.40 456.87,322.40" fill="#000"/>
<polygon points="456.89,367.20 457.37,361.80 457.85,367.20 457.37,372.60" fill="#000"/>
<rect x="0" y="22.3" width="685" height="1.3" fill="#5c5c5c"/>
<rect x="378.2" y="380.00" width="157" height="1.1" fill="#484848"/>
<rect x="412.95" y="377.15" width="1.1" height="6.7" fill="#484848"/>
<rect x="434.40" y="377.15" width="1.1" height="6.7" fill="#484848"/>
<rect x="477.30" y="377.15" width="1.1" height="6.7" fill="#484848"/>
<rect x="498.75" y="377.15" width="1.1" height="6.7" fill="#484848"/>
</svg>
<div class="t b" style="left:9.00px;top:12px;transform:scaleX(0.8946) skewX(0.05deg);transform-origin:0 0;">Study or Subgroup</div>
<div class="t b" style="left:103.47px;top:12px;transform:scaleX(0.9408) skewX(0.05deg);transform-origin:100% 0;">Prevalence</div>
<div class="t b" style="left:181.06px;top:12px;transform:scaleX(0.8094) skewX(0.05deg);transform-origin:100% 0;">SE</div>
<div class="t b" style="left:199.84px;top:12px;transform:scaleX(0.9289) skewX(0.05deg);transform-origin:100% 0;">Weight</div>
<div class="t b" style="left:233.86px;top:12px;transform:scaleX(0.9022) skewX(0.05deg);transform-origin:100% 0;">IV, Random, 95% CI</div>
<div class="t b" style="left:253.89px;top:0px;transform:scaleX(0.9427) skewX(0.05deg);transform-origin:50% 0;">Prevalence</div>
<div class="t b" style="left:429.79px;top:0px;transform:scaleX(0.9370) skewX(0.05deg);transform-origin:50% 0;">Prevalence</div>
<div class="t b" style="left:410.28px;top:12px;transform:scaleX(0.9076) skewX(0.05deg);transform-origin:50% 0;">IV, Random, 95% CI</div>
<div class="t b" style="left:580.98px;top:0px;transform:scaleX(0.9031) skewX(0.05deg);transform-origin:50% 0;">Risk of Bias</div>
<div class="t b" style="left:545.08px;top:12px;transform:scaleX(0.8700) skewX(0.05deg);transform-origin:50% 0;">A</div>
<div class="t b" style="left:557.88px;top:12px;transform:scaleX(0.8700) skewX(0.05deg);transform-origin:50% 0;">B</div>
<div class="t b" style="left:570.18px;top:12px;transform:scaleX(0.8700) skewX(0.05deg);transform-origin:50% 0;">C</div>
<div class="t b" style="left:583.18px;top:12px;transform:scaleX(0.8700) skewX(0.05deg);transform-origin:50% 0;">D</div>
<div class="t b" style="left:595.86px;top:12px;transform:scaleX(0.8000) skewX(0.05deg);transform-origin:50% 0;">E</div>
<div class="t b" style="left:608.45px;top:12px;transform:scaleX(0.8700) skewX(0.05deg);transform-origin:50% 0;">F</div>
<div class="t b" style="left:620.41px;top:12px;transform:scaleX(0.8700) skewX(0.05deg);transform-origin:50% 0;">G</div>
<div class="t b" style="left:632.98px;top:12px;transform:scaleX(0.8700) skewX(0.05deg);transform-origin:50% 0;">H</div>
<div class="t b" style="left:648.21px;top:12px;transform:scaleX(0.8700) skewX(0.05deg);transform-origin:50% 0;">I</div>
<div class="t b" style="left:659.42px;top:12px;transform:scaleX(0.8700) skewX(0.05deg);transform-origin:50% 0;">J</div>
<div class="t b" style="left:8.00px;top:25px;transform:scaleX(0.9228) skewX(0.05deg);transform-origin:0 0;">1.3.1 Skin and Soft tissue infection</div>
<div class="t" style="left:8.00px;top:39px;transform:scaleX(0.9640) skewX(0.05deg);transform-origin:0 0;">Abubakar 2020</div>
<div class="t" style="left:142.39px;top:39px;transform:scaleX(0.9350) skewX(0.05deg);transform-origin:100% 0;">0.3</div>
<div class="t" style="left:163.51px;top:39px;transform:scaleX(0.9580) skewX(0.05deg);transform-origin:100% 0;">0.0216</div>
<div class="t" style="left:210.30px;top:39px;transform:scaleX(0.9150) skewX(0.05deg);transform-origin:100% 0;">5.9%</div>
<div class="t" style="left:253.92px;top:39px;transform:scaleX(0.9420) skewX(0.05deg);transform-origin:100% 0;">0.30 [0.26, 0.34]</div>
<div class="t" style="left:8.00px;top:52px;transform:scaleX(0.9502) skewX(0.05deg);transform-origin:0 0;">Dayyab 2018</div>
<div class="t" style="left:136.83px;top:52px;transform:scaleX(0.9350) skewX(0.05deg);transform-origin:100% 0;">30.6</div>
<div class="t" style="left:163.51px;top:52px;transform:scaleX(0.9580) skewX(0.05deg);transform-origin:100% 0;">0.0001</div>
<div class="t" style="left:210.30px;top:52px;transform:scaleX(0.9150) skewX(0.05deg);transform-origin:100% 0;">5.9%</div>
<div class="t" style="left:237.23px;top:52px;transform:scaleX(0.9420) skewX(0.05deg);transform-origin:100% 0;">30.60 [30.60, 30.60]</div>
<div class="t" style="left:8.00px;top:64px;transform:scaleX(0.9558) skewX(0.05deg);transform-origin:0 0;">Ige 2011</div>
<div class="t" style="left:131.27px;top:64px;transform:scaleX(0.9350) skewX(0.05deg);transform-origin:100% 0;">15.44</div>
<div class="t" style="left:163.51px;top:64px;transform:scaleX(0.9580) skewX(0.05deg);transform-origin:100% 0;">0.0001</div>
<div class="t" style="left:210.30px;top:64px;transform:scaleX(0.9150) skewX(0.05deg);transform-origin:100% 0;">5.9%</div>
<div class="t" style="left:237.23px;top:64px;transform:scaleX(0.9420) skewX(0.05deg);transform-origin:100% 0;">15.44 [15.44, 15.44]</div>
<div class="t" style="left:8.00px;top:77px;transform:scaleX(0.9761) skewX(0.05deg);transform-origin:0 0;">Iliyasu 2016</div>
<div class="t" style="left:136.83px;top:77px;transform:scaleX(0.9350) skewX(0.05deg);transform-origin:100% 0;">35.7</div>
<div class="t" style="left:169.07px;top:77px;transform:scaleX(0.9580) skewX(0.05deg);transform-origin:100% 0;">0.053</div>
<div class="t" style="left:210.30px;top:77px;transform:scaleX(0.9150) skewX(0.05deg);transform-origin:100% 0;">5.9%</div>
<div class="t" style="left:237.23px;top:77px;transform:scaleX(0.9420) skewX(0.05deg);transform-origin:100% 0;">35.70 [35.60, 35.80]</div>
<div class="t" style="left:8.00px;top:89px;transform:scaleX(0.9724) skewX(0.05deg);transform-origin:0 0;">Iliyasu 2018</div>
<div class="t" style="left:136.83px;top:89px;transform:scaleX(0.9350) skewX(0.05deg);transform-origin:100% 0;">34.2</div>
<div class="t" style="left:163.51px;top:89px;transform:scaleX(0.9580) skewX(0.05deg);transform-origin:100% 0;">0.0208</div>
<div class="t" style="left:210.30px;top:89px;transform:scaleX(0.9150) skewX(0.05deg);transform-origin:100% 0;">5.9%</div>
<div class="t" style="left:237.23px;top:89px;transform:scaleX(0.9420) skewX(0.05deg);transform-origin:100% 0;">34.20 [34.16, 34.24]</div>
<div class="t" style="left:8.00px;top:102px;transform:scaleX(0.9649) skewX(0.05deg);transform-origin:0 0;">Iwuafor 2016</div>
<div class="t" style="left:142.39px;top:102px;transform:scaleX(0.9350) skewX(0.05deg);transform-origin:100% 0;">8.9</div>
<div class="t" style="left:163.51px;top:102px;transform:scaleX(0.9580) skewX(0.05deg);transform-origin:100% 0;">0.0503</div>
<div class="t" style="left:210.30px;top:102px;transform:scaleX(0.9150) skewX(0.05deg);transform-origin:100% 0;">5.9%</div>
<div class="t" style="left:253.92px;top:102px;transform:scaleX(0.9420) skewX(0.05deg);transform-origin:100% 0;">8.90 [8.80, 9.00]</div>
<div class="t" style="left:8.00px;top:114px;transform:scaleX(0.9702) skewX(0.05deg);transform-origin:0 0;">Makanjuola 2018</div>
<div class="t" style="left:142.39px;top:114px;transform:scaleX(0.9350) skewX(0.05deg);transform-origin:100% 0;">5.9</div>
<div class="t" style="left:163.51px;top:114px;transform:scaleX(0.9580) skewX(0.05deg);transform-origin:100% 0;">0.0321</div>
<div class="t" style="left:210.30px;top:114px;transform:scaleX(0.9150) skewX(0.05deg);transform-origin:100% 0;">5.9%</div>
<div class="t" style="left:253.92px;top:114px;transform:scaleX(0.9420) skewX(0.05deg);transform-origin:100% 0;">5.90 [5.84, 5.96]</div>
<div class="t" style="left:8.00px;top:127px;transform:scaleX(0.9848) skewX(0.05deg);transform-origin:0 0;">Olajubi 2012</div>
<div class="t" style="left:142.39px;top:127px;transform:scaleX(0.9350) skewX(0.05deg);transform-origin:100% 0;">8.8</div>
<div class="t" style="left:163.51px;top:127px;transform:scaleX(0.9580) skewX(0.05deg);transform-origin:100% 0;">0.0192</div>
<div class="t" style="left:210.30px;top:127px;transform:scaleX(0.9150) skewX(0.05deg);transform-origin:100% 0;">5.9%</div>
<div class="t" style="left:253.92px;top:127px;transform:scaleX(0.9420) skewX(0.05deg);transform-origin:100% 0;">8.80 [8.76, 8.84]</div>
<div class="t" style="left:8.00px;top:139px;transform:scaleX(0.9848) skewX(0.05deg);transform-origin:0 0;">Osinupebi 2014</div>
<div class="t" style="left:150.74px;top:139px;transform:scaleX(0.9350) skewX(0.05deg);transform-origin:100% 0;">8</div>
<div class="t" style="left:163.51px;top:139px;transform:scaleX(0.9580) skewX(0.05deg);transform-origin:100% 0;">0.0516</div>
<div class="t" style="left:210.30px;top:139px;transform:scaleX(0.9150) skewX(0.05deg);transform-origin:100% 0;">5.9%</div>
<div class="t" style="left:253.92px;top:139px;transform:scaleX(0.9420) skewX(0.05deg);transform-origin:100% 0;">8.00 [7.90, 8.10]</div>
<div class="t b" style="left:8.70px;top:150px;transform:scaleX(0.8962) skewX(0.05deg);transform-origin:0 0;">Subtotal (95% CI)</div>
<div class="t b" style="left:204.99px;top:150px;transform:scaleX(0.8956) skewX(0.05deg);transform-origin:100% 0;">52.9%</div>
<div class="t b" style="left:240.58px;top:150px;transform:scaleX(0.9383) skewX(0.05deg);transform-origin:100% 0;">16.43 [9.42, 23.43]</div>
<div class="t" style="left:8.00px;top:164px;transform:scaleX(0.9536) skewX(0.05deg);transform-origin:0 0;">Heterogeneity: Tau² = 114.92; Chi² = 1.149E10, df = 8 (P &lt; 0.00001); I² = 100%</div>
<div class="t" style="left:8.00px;top:177px;transform:scaleX(0.9456) skewX(0.05deg);transform-origin:0 0;">Test for overall effect: Z = 4.60 (P &lt; 0.00001)</div>
<div class="t b" style="left:8.00px;top:201px;transform:scaleX(0.9298) skewX(0.05deg);transform-origin:0 0;">1.3.2 Respiratory tract infection</div>
<div class="t" style="left:8.00px;top:215px;transform:scaleX(0.9640) skewX(0.05deg);transform-origin:0 0;">Abubakar 2020</div>
<div class="t" style="left:142.39px;top:215px;transform:scaleX(0.9350) skewX(0.05deg);transform-origin:100% 0;">1.9</div>
<div class="t" style="left:163.51px;top:215px;transform:scaleX(0.9580) skewX(0.05deg);transform-origin:100% 0;">0.0496</div>
<div class="t" style="left:210.30px;top:215px;transform:scaleX(0.9150) skewX(0.05deg);transform-origin:100% 0;">5.9%</div>
<div class="t" style="left:253.92px;top:215px;transform:scaleX(0.9420) skewX(0.05deg);transform-origin:100% 0;">1.90 [1.80, 2.00]</div>
<div class="t" style="left:8.00px;top:227px;transform:scaleX(0.9668) skewX(0.05deg);transform-origin:0 0;">Alkali 2019</div>
<div class="t" style="left:136.83px;top:227px;transform:scaleX(0.9350) skewX(0.05deg);transform-origin:100% 0;">12.3</div>
<div class="t" style="left:163.51px;top:227px;transform:scaleX(0.9580) skewX(0.05deg);transform-origin:100% 0;">0.0001</div>
<div class="t" style="left:210.30px;top:227px;transform:scaleX(0.9150) skewX(0.05deg);transform-origin:100% 0;">5.9%</div>
<div class="t" style="left:237.23px;top:227px;transform:scaleX(0.9420) skewX(0.05deg);transform-origin:100% 0;">12.30 [12.30, 12.30]</div>
<div class="t" style="left:8.00px;top:240px;transform:scaleX(0.9502) skewX(0.05deg);transform-origin:0 0;">Dayyab 2018</div>
<div class="t" style="left:142.39px;top:240px;transform:scaleX(0.9350) skewX(0.05deg);transform-origin:100% 0;">2.1</div>
<div class="t" style="left:163.51px;top:240px;transform:scaleX(0.9580) skewX(0.05deg);transform-origin:100% 0;">0.0001</div>
<div class="t" style="left:210.30px;top:240px;transform:scaleX(0.9150) skewX(0.05deg);transform-origin:100% 0;">5.9%</div>
<div class="t" style="left:253.92px;top:240px;transform:scaleX(0.9420) skewX(0.05deg);transform-origin:100% 0;">2.10 [2.10, 2.10]</div>
<div class="t" style="left:8.00px;top:252px;transform:scaleX(0.9761) skewX(0.05deg);transform-origin:0 0;">Iliyasu 2016</div>
<div class="t" style="left:136.83px;top:252px;transform:scaleX(0.9350) skewX(0.05deg);transform-origin:100% 0;">3.61</div>
<div class="t" style="left:163.51px;top:252px;transform:scaleX(0.9580) skewX(0.05deg);transform-origin:100% 0;">0.0203</div>
<div class="t" style="left:210.30px;top:252px;transform:scaleX(0.9150) skewX(0.05deg);transform-origin:100% 0;">5.9%</div>
<div class="t" style="left:253.92px;top:252px;transform:scaleX(0.9420) skewX(0.05deg);transform-origin:100% 0;">3.61 [3.57, 3.65]</div>
<div class="t" style="left:8.00px;top:265px;transform:scaleX(0.9724) skewX(0.05deg);transform-origin:0 0;">Iliyasu 2018</div>
<div class="t" style="left:142.39px;top:265px;transform:scaleX(0.9350) skewX(0.05deg);transform-origin:100% 0;">2.7</div>
<div class="t" style="left:163.51px;top:265px;transform:scaleX(0.9580) skewX(0.05deg);transform-origin:100% 0;">0.0071</div>
<div class="t" style="left:210.30px;top:265px;transform:scaleX(0.9150) skewX(0.05deg);transform-origin:100% 0;">5.9%</div>
<div class="t" style="left:253.92px;top:265px;transform:scaleX(0.9420) skewX(0.05deg);transform-origin:100% 0;">2.70 [2.69, 2.71]</div>
<div class="t" style="left:8.00px;top:277px;transform:scaleX(0.9649) skewX(0.05deg);transform-origin:0 0;">Iwuafor 2016</div>
<div class="t" style="left:142.39px;top:277px;transform:scaleX(0.9350) skewX(0.05deg);transform-origin:100% 0;">6.7</div>
<div class="t" style="left:163.51px;top:277px;transform:scaleX(0.9580) skewX(0.05deg);transform-origin:100% 0;">0.0442</div>
<div class="t" style="left:210.30px;top:277px;transform:scaleX(0.9150) skewX(0.05deg);transform-origin:100% 0;">5.9%</div>
<div class="t" style="left:253.92px;top:277px;transform:scaleX(0.9420) skewX(0.05deg);transform-origin:100% 0;">6.70 [6.61, 6.79]</div>
<div class="t" style="left:8.00px;top:290px;transform:scaleX(0.9702) skewX(0.05deg);transform-origin:0 0;">Makanjuola 2018</div>
<div class="t" style="left:136.83px;top:290px;transform:scaleX(0.9350) skewX(0.05deg);transform-origin:100% 0;">13.8</div>
<div class="t" style="left:163.51px;top:290px;transform:scaleX(0.9580) skewX(0.05deg);transform-origin:100% 0;">0.0429</div>
<div class="t" style="left:210.30px;top:290px;transform:scaleX(0.9150) skewX(0.05deg);transform-origin:100% 0;">5.9%</div>
<div class="t" style="left:237.23px;top:290px;transform:scaleX(0.9420) skewX(0.05deg);transform-origin:100% 0;">13.80 [13.72, 13.88]</div>
<div class="t" style="left:8.00px;top:302px;transform:scaleX(0.9848) skewX(0.05deg);transform-origin:0 0;">Osinupebi 2014</div>
<div class="t" style="left:142.39px;top:302px;transform:scaleX(0.9350) skewX(0.05deg);transform-origin:100% 0;">0.6</div>
<div class="t" style="left:169.07px;top:302px;transform:scaleX(0.9580) skewX(0.05deg);transform-origin:100% 0;">0.043</div>
<div class="t" style="left:210.30px;top:302px;transform:scaleX(0.9150) skewX(0.05deg);transform-origin:100% 0;">5.9%</div>
<div class="t" style="left:253.92px;top:302px;transform:scaleX(0.9420) skewX(0.05deg);transform-origin:100% 0;">0.60 [0.52, 0.68]</div>
<div class="t b" style="left:8.70px;top:314px;transform:scaleX(0.8962) skewX(0.05deg);transform-origin:0 0;">Subtotal (95% CI)</div>
<div class="t b" style="left:204.99px;top:314px;transform:scaleX(0.8956) skewX(0.05deg);transform-origin:100% 0;">47.1%</div>
<div class="t b" style="left:246.15px;top:314px;transform:scaleX(0.9335) skewX(0.05deg);transform-origin:100% 0;">5.46 [0.47, 10.46]</div>
<div class="t" style="left:8.00px;top:327px;transform:scaleX(0.9521) skewX(0.05deg);transform-origin:0 0;">Heterogeneity: Tau² = 52.01; Chi² = 5202491703.85, df = 7 (P &lt; 0.00001); I² = 100%</div>
<div class="t" style="left:8.00px;top:340px;transform:scaleX(0.9437) skewX(0.05deg);transform-origin:0 0;">Test for overall effect: Z = 2.14 (P = 0.03)</div>
<div class="t b" style="left:8.20px;top:364px;transform:scaleX(0.9099) skewX(0.05deg);transform-origin:0 0;">Total (95% CI)</div>
<div class="t b" style="left:199.43px;top:364px;transform:scaleX(0.9035) skewX(0.05deg);transform-origin:100% 0;">100.0%</div>
<div class="t b" style="left:242.23px;top:364px;transform:scaleX(0.9575) skewX(0.05deg);transform-origin:100% 0;">11.27 [5.66, 16.87]</div>
<div class="t" style="left:8.00px;top:378px;transform:scaleX(0.9491) skewX(0.05deg);transform-origin:0 0;">Heterogeneity: Tau² = 139.07; Chi² = 4.173E10, df = 16 (P &lt; 0.00001); I² = 100%</div>
<div class="t" style="left:8.00px;top:391px;transform:scaleX(0.9454) skewX(0.05deg);transform-origin:0 0;">Test for overall effect: Z = 3.94 (P &lt; 0.0001)</div>
<div class="t" style="left:8.00px;top:403px;transform:scaleX(0.9540) skewX(0.05deg);transform-origin:0 0;">Test for subgroup differences: Chi² = 6.24, df = 1 (P = 0.01), I² = 84.0%</div>
<div class="t" style="left:8.00px;top:416px;transform:scaleX(0.9941) skewX(0.05deg);transform-origin:0 0;"><u>Risk of bias legend</u></div>
<div class="t" style="left:8.00px;top:429px;transform:scaleX(0.9737) skewX(0.05deg);transform-origin:0 0;">(A) Target Population</div>
<div class="t" style="left:8.00px;top:442px;transform:scaleX(0.9746) skewX(0.05deg);transform-origin:0 0;">(B) Sampling Frame</div>
<div class="t" style="left:8.00px;top:454px;transform:scaleX(0.9637) skewX(0.05deg);transform-origin:0 0;">(C) Random Selection</div>
<div class="t" style="left:8.00px;top:467px;transform:scaleX(0.9743) skewX(0.05deg);transform-origin:0 0;">(D) Non-Response Bias</div>
<div class="t" style="left:8.00px;top:479px;transform:scaleX(0.9485) skewX(0.05deg);transform-origin:0 0;">(E) Data Collection</div>
<div class="t" style="left:8.00px;top:492px;transform:scaleX(0.9549) skewX(0.05deg);transform-origin:0 0;">(F) Case Definition</div>
<div class="t" style="left:8.00px;top:504px;transform:scaleX(0.9535) skewX(0.05deg);transform-origin:0 0;">(G) Study Instrument Reliability and Validity</div>
<div class="t" style="left:8.00px;top:517px;transform:scaleX(0.9482) skewX(0.05deg);transform-origin:0 0;">(H) Mode of Data Collection</div>
<div class="t" style="left:8.00px;top:529px;transform:scaleX(0.9680) skewX(0.05deg);transform-origin:0 0;">(I) Appropriate Numerator and Denominator</div>
<div class="t" style="left:8.00px;top:542px;transform:scaleX(0.9608) skewX(0.05deg);transform-origin:0 0;">(J) Overall Risk of Bias</div>
<div class="t" style="left:402.89px;top:384px;transform:scaleX(0.9550) skewX(0.05deg);transform-origin:50% 0;">-500</div>
<div class="t" style="left:425.14px;top:384px;transform:scaleX(0.9550) skewX(0.05deg);transform-origin:50% 0;">-250</div>
<div class="t" style="left:453.62px;top:384px;transform:scaleX(0.9550) skewX(0.05deg);transform-origin:50% 0;">0</div>
<div class="t" style="left:469.21px;top:384px;transform:scaleX(0.9550) skewX(0.05deg);transform-origin:50% 0;">250</div>
<div class="t" style="left:491.36px;top:384px;transform:scaleX(0.9550) skewX(0.05deg);transform-origin:50% 0;">500</div>
</body></html>
